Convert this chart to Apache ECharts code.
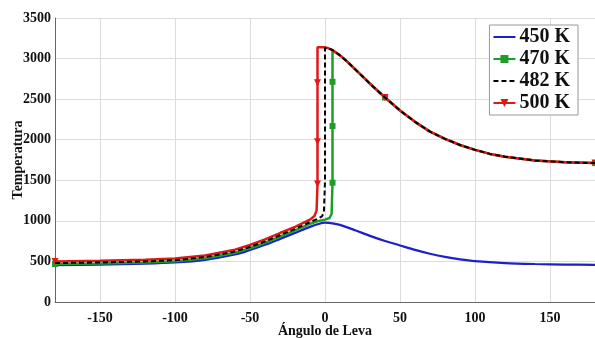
<!DOCTYPE html>
<html>
<head>
<meta charset="utf-8">
<script src="https://cdn.jsdelivr.net/npm/echarts@6/dist/echarts.min.js"></script>
<style>
  html, body { margin: 0; padding: 0; background: #ffffff; }
  #chart { width: 595px; height: 338px; }
</style>
</head>
<body>
<div id="chart"></div>
<script>
// Cam angle ticks and temperature ticks
const xTicks = [-150, -100, -50, 0, 50, 100, 150];
const yTicks = [0, 500, 1000, 1500, 2000, 2500, 3000, 3500];

// 450 K: no ignition, compression/expansion only
const ang450 = [-180, -150, -120, -100, -80, -60, -50, -40, -30, -20, -10, -5, 0, 5, 10, 20, 30, 40, 50, 60, 70, 80, 90, 100, 120, 140, 160, 180];
const t450   = [455, 460, 472, 487, 520, 585, 640, 705, 778, 852, 926, 958, 978, 970, 950, 885, 815, 752, 697, 642, 595, 556, 526, 504, 480, 468, 461, 458];

// 470 K: ignition around +5 deg
const ang470 = [-180, -150, -120, -100, -80, -60, -50, -40, -30, -20, -10, -5, 0, 3, 4.4, 5, 5, 5, 5, 7, 10, 15, 20, 30, 40, 50, 60, 70, 80, 90, 100, 110, 120, 140, 160, 180];
const t470   = [468, 475, 488, 503, 538, 607, 662, 730, 806, 882, 962, 995, 1015, 1035, 1085, 1470, 2168, 2714, 3100, 3075, 3040, 2960, 2870, 2690, 2520, 2360, 2220, 2100, 2010, 1935, 1875, 1825, 1790, 1745, 1722, 1712];
const mk470  = [0, 15, 16, 17, 24, 35];

// 482 K: ignition around 0 deg
const ang482 = [-180, -150, -120, -100, -80, -60, -50, -40, -30, -20, -10, -5, -2, -0.7, 0, 0, 1.5, 3, 5, 10, 15, 20, 30, 40, 50, 60, 70, 80, 90, 100, 110, 120, 140, 160, 180];
const t482   = [480, 487, 500, 515, 552, 622, 678, 746, 823, 900, 985, 1025, 1055, 1110, 1500, 3130, 3128, 3120, 3105, 3040, 2960, 2870, 2690, 2520, 2360, 2220, 2100, 2010, 1935, 1875, 1825, 1790, 1745, 1722, 1712];

// 500 K: ignition around -5 deg
const ang500 = [-180, -150, -120, -100, -80, -60, -50, -40, -30, -20, -10, -7, -5.6, -5, -5, -5, -5, -3, 0, 2, 5, 10, 15, 20, 30, 40, 50, 60, 70, 80, 90, 100, 110, 120, 140, 160, 180];
const t500   = [500, 507, 520, 535, 572, 645, 702, 772, 850, 926, 1015, 1060, 1130, 1454, 1975, 2702, 3140, 3140, 3138, 3130, 3105, 3040, 2960, 2870, 2690, 2520, 2360, 2220, 2100, 2010, 1935, 1875, 1825, 1790, 1745, 1722, 1712];
const mk500  = [0, 13, 14, 15, 25, 36];

const serif = 'Liberation Serif';

function pts(ang, t, marks) {
  return ang.map((a, i) => {
    const item = { value: [a, t[i]] };
    if (marks && !marks.includes(i)) item.symbol = 'none';
    return item;
  });
}

const chart = echarts.init(document.getElementById('chart'), null, { renderer: 'canvas' });

chart.setOption({
  animation: false,
  backgroundColor: '#ffffff',
  grid: { left: 55, right: 0, top: 18, bottom: 36, containLabel: false, outerBoundsMode: 'none' },
  legend: {
    orient: 'vertical',
    right: 17,
    top: 25,
    itemWidth: 22,
    itemHeight: 10,
    itemGap: 2,
    padding: [2, 8, 2, 3],
    backgroundColor: '#ffffff',
    borderColor: '#999999',
    borderWidth: 1,
    textStyle: { fontFamily: serif, fontWeight: 'bold', fontSize: 20, lineHeight: 17, color: '#111111', padding: [0, 0, 0, -1] },
    data: [
      { name: '450 K', itemStyle: { opacity: 0 } },
      { name: '470 K' },
      { name: '482 K', itemStyle: { opacity: 0 } },
      { name: '500 K' }
    ]
  },
  xAxis: {
    type: 'value',
    min: -180,
    max: 180,
    name: 'Ángulo de Leva',
    nameLocation: 'middle',
    nameGap: 22,
    nameMoveOverlap: false,
    nameTextStyle: { fontFamily: serif, fontWeight: 'bold', fontSize: 14, color: '#111111' },
    axisLine: { show: true, onZero: false, lineStyle: { color: '#666666', width: 1 } },
    axisTick: { show: false, customValues: xTicks },
    axisLabel: { customValues: xTicks, margin: 9, fontFamily: serif, fontWeight: 'bold', fontSize: 14, color: '#111111' },
    splitLine: { show: true, lineStyle: { color: '#dcdcdc', width: 1 } }
  },
  yAxis: {
    type: 'value',
    min: 0,
    max: 3500,
    interval: 500,
    name: 'Temperatura',
    nameLocation: 'middle',
    nameGap: 30,
    nameMoveOverlap: false,
    nameTextStyle: { fontFamily: serif, fontWeight: 'bold', fontSize: 14, color: '#111111' },
    axisLine: { show: true, onZero: false, lineStyle: { color: '#666666', width: 1 } },
    axisTick: { show: false },
    axisLabel: { margin: 4, fontFamily: serif, fontWeight: 'bold', fontSize: 14, color: '#111111',
                 formatter: v => yTicks.includes(v) ? String(v) : '' },
    splitLine: { show: true, lineStyle: { color: '#dcdcdc', width: 1 } }
  },
  series: [
    {
      name: '450 K', type: 'line', data: pts(ang450, t450), smooth: 0.3,
      symbol: 'none', color: '#1f1fc8',
      lineStyle: { width: 2.2, color: '#1f1fc8' }, z: 2
    },
    {
      name: '470 K', type: 'line', data: pts(ang470, t470, mk470), smooth: false,
      symbol: 'rect', symbolSize: 6, showSymbol: true, color: '#1e9e28',
      itemStyle: { color: '#1e9e28' },
      lineStyle: { width: 2.5, color: '#1e9e28' }, z: 3
    },
    {
      name: '482 K', type: 'line', data: pts(ang482, t482), smooth: false,
      symbol: 'none', color: '#000000',
      lineStyle: { width: 2, color: '#000000', type: [5, 3] }, z: 5
    },
    {
      name: '500 K', type: 'line', data: pts(ang500, t500, mk500), smooth: false,
      symbol: 'triangle', symbolRotate: 180, symbolSize: 7, showSymbol: true, color: '#e01818',
      itemStyle: { color: '#e01818' },
      lineStyle: { width: 2.5, color: '#e01818' }, z: 4
    }
  ]
});
</script>
</body>
</html>
